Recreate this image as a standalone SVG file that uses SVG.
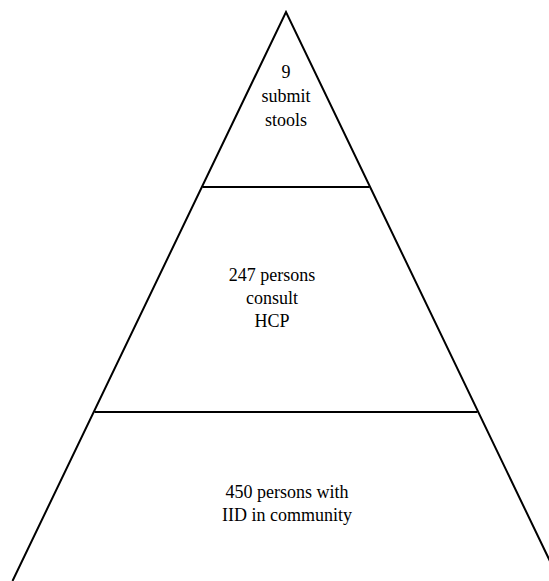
<svg xmlns="http://www.w3.org/2000/svg" width="549" height="581" viewBox="0 0 549 581">
<style>
.ln{stroke:#000;stroke-width:2;fill:none}
text{font-family:"Times New Roman",Times,"Liberation Serif","Nimbus Roman","DejaVu Serif",serif;font-size:18px;fill:#000;text-anchor:middle}
</style>
<rect width="549" height="581" fill="#fff"/>
<g id="connectors">
<path class="ln" d="M12.5,581 L286,12 L559.5,581"/>
<line class="ln" x1="202.5" y1="187" x2="369.5" y2="187"/>
<line class="ln" x1="94.5" y1="412" x2="477.5" y2="412"/>
</g>
<g id="top">
<text x="286" y="78">9</text>
<text x="286" y="102">submit</text>
<text x="286" y="126">stools</text>
</g>
<g id="middle">
<text x="272" y="281">247 persons</text>
<text x="272" y="304">consult</text>
<text x="272" y="327">HCP</text>
</g>
<g id="bottom">
<text x="287" y="498">450 persons with</text>
<text x="287" y="521">IID in community</text>
</g>
</svg>
